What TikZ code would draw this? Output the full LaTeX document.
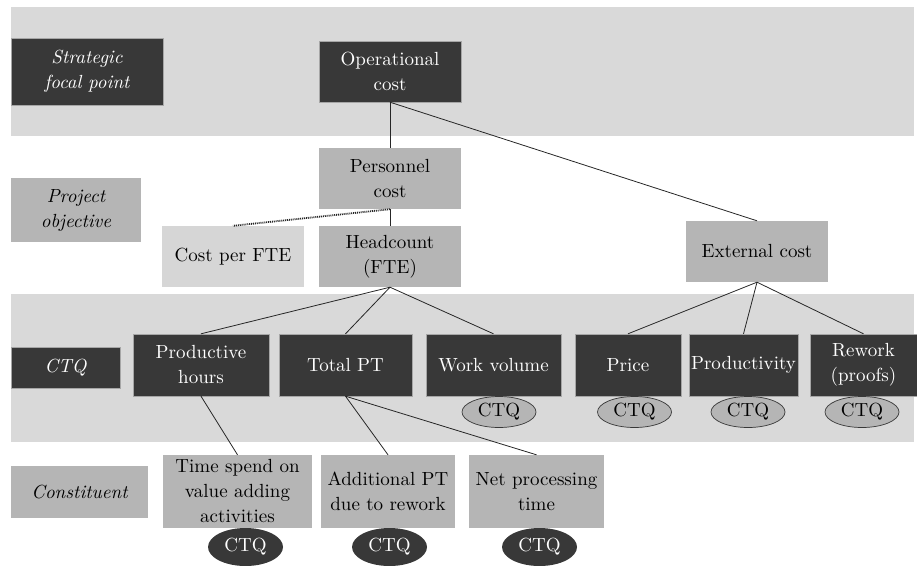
\documentclass[tikz,border=0pt]{standalone}
\usepackage{fontspec}
\setmainfont{lmroman10-regular.otf}[ItalicFont=lmroman10-italic.otf, BoldFont=lmroman10-bold.otf]
\usetikzlibrary{shapes.geometric}
\definecolor{darkbox}{HTML}{383838}
\definecolor{midbox}{HTML}{B5B5B5}
\definecolor{bandgray}{HTML}{D9D9D9}
\definecolor{lightbox}{HTML}{D6D6D6}
\tikzset{
  base/.style={rectangle, inner sep=0pt, align=center,
    font=\fontsize{19pt}{25pt}\selectfont},
  darkbox/.style={base, fill=darkbox, text=white, draw=gray!70, line width=0.4pt},
  midbox/.style={base, fill=midbox, text=black},
  lightbox/.style={base, fill=lightbox, text=black},
  levellabel/.style={font=\fontsize{19pt}{25pt}\selectfont\itshape},
  ctqlight/.style={ellipse, inner sep=0pt, minimum width=74pt, minimum height=31pt,
    fill=midbox, draw=darkbox, line width=0.7pt,
    font=\fontsize{19pt}{25pt}\selectfont},
  ctqdark/.style={ellipse, inner sep=0pt, minimum width=75pt, minimum height=38pt,
    fill=darkbox, text=white, font=\fontsize{19pt}{25pt}\selectfont},
  link/.style={draw=black!85, line width=0.8pt},
  dotlink/.style={draw=black!85, line width=1.8pt, dash pattern=on 1pt off 0.9pt},
  sz/.style 2 args={minimum width=#1pt, minimum height=#2pt}
}
\begin{document}
\begin{tikzpicture}[x=1pt, y=-1pt]
\useasboundingbox (0,0) rectangle (917,565);

% level bands
\fill[bandgray] (11,7) rectangle (914,136);
\fill[bandgray] (11,294) rectangle (914,442);

% level labels
\node[darkbox, sz={152}{67}, levellabel] (lvlstrat) at (87,71.5) {Strategic\\focal point};
\node[midbox, sz={130}{64}, levellabel, draw=none] (lvlproj) at (76,210) {Project\\objective};
\node[darkbox, sz={109}{41}, levellabel] (lvlctq) at (65.5,367.5) {CTQ};
\node[midbox, sz={137}{52}, levellabel] (lvlconst) at (79.5,492) {Constituent};

% tree nodes
\node[darkbox, sz={142}{61}] (oper) at (390,71.5) {Operational\\cost};
\node[midbox, sz={142}{61}] (pers) at (390,178.5) {Personnel\\cost};
\node[lightbox, sz={142}{61}] (cpf) at (233,256.5) {Cost per FTE};
\node[midbox, sz={142}{61}] (head) at (390,256.5) {Headcount\\(FTE)};
\node[midbox, sz={142}{61}] (ext) at (757,251.5) {External cost};

\node[darkbox, sz={136}{62}] (prod) at (201,365) {Productive\\hours};
\node[darkbox, sz={133}{62}] (tpt) at (345.5,365) {Total PT};
\node[darkbox, sz={135}{62}] (wv) at (493.5,365) {Work volume};
\node[darkbox, sz={106}{62}] (price) at (628,365) {Price};
\node[darkbox, sz={109}{62}] (pvty) at (743.5,365) {Productivity};
\node[darkbox, sz={107}{62}] (rew) at (863.5,365) {Rework\\(proofs)};

\node[midbox, sz={149}{73}] (tsp) at (237.5,491.5) {Time spend on\\value adding\\activities};
\node[midbox, sz={134}{73}] (apt) at (388,491.5) {Additional PT\\due to rework};
\node[midbox, sz={135}{73}] (npt) at (536.5,491.5) {Net processing\\time};

% CTQ markers
\node[ctqlight] (cwv) at (499,412) {CTQ};
\node[ctqlight] (cprice) at (634.5,412) {CTQ};
\node[ctqlight] (cpvty) at (748,412) {CTQ};
\node[ctqlight] (crew) at (862,412) {CTQ};
\node[ctqdark] (ctsp) at (245.5,547) {CTQ};
\node[ctqdark] (capt) at (389.5,547) {CTQ};
\node[ctqdark] (cnpt) at (539.5,547) {CTQ};

% connectors
\draw[link] (oper.south) -- (pers.north);
\draw[link] (oper.south) -- (ext.north);
\draw[link] (pers.south) -- (head.north);
\draw[dotlink] (pers.south) -- (cpf.north);
\draw[link] (head.south) -- (prod.north);
\draw[link] (head.south) -- (tpt.north);
\draw[link] (head.south) -- (wv.north);
\draw[link] (ext.south) -- (price.north);
\draw[link] (ext.south) -- (pvty.north);
\draw[link] (ext.south) -- (rew.north);
\draw[link] (prod.south) -- (tsp.north);
\draw[link] (tpt.south) -- (apt.north);
\draw[link] (tpt.south) -- (npt.north);
\end{tikzpicture}
\end{document}
